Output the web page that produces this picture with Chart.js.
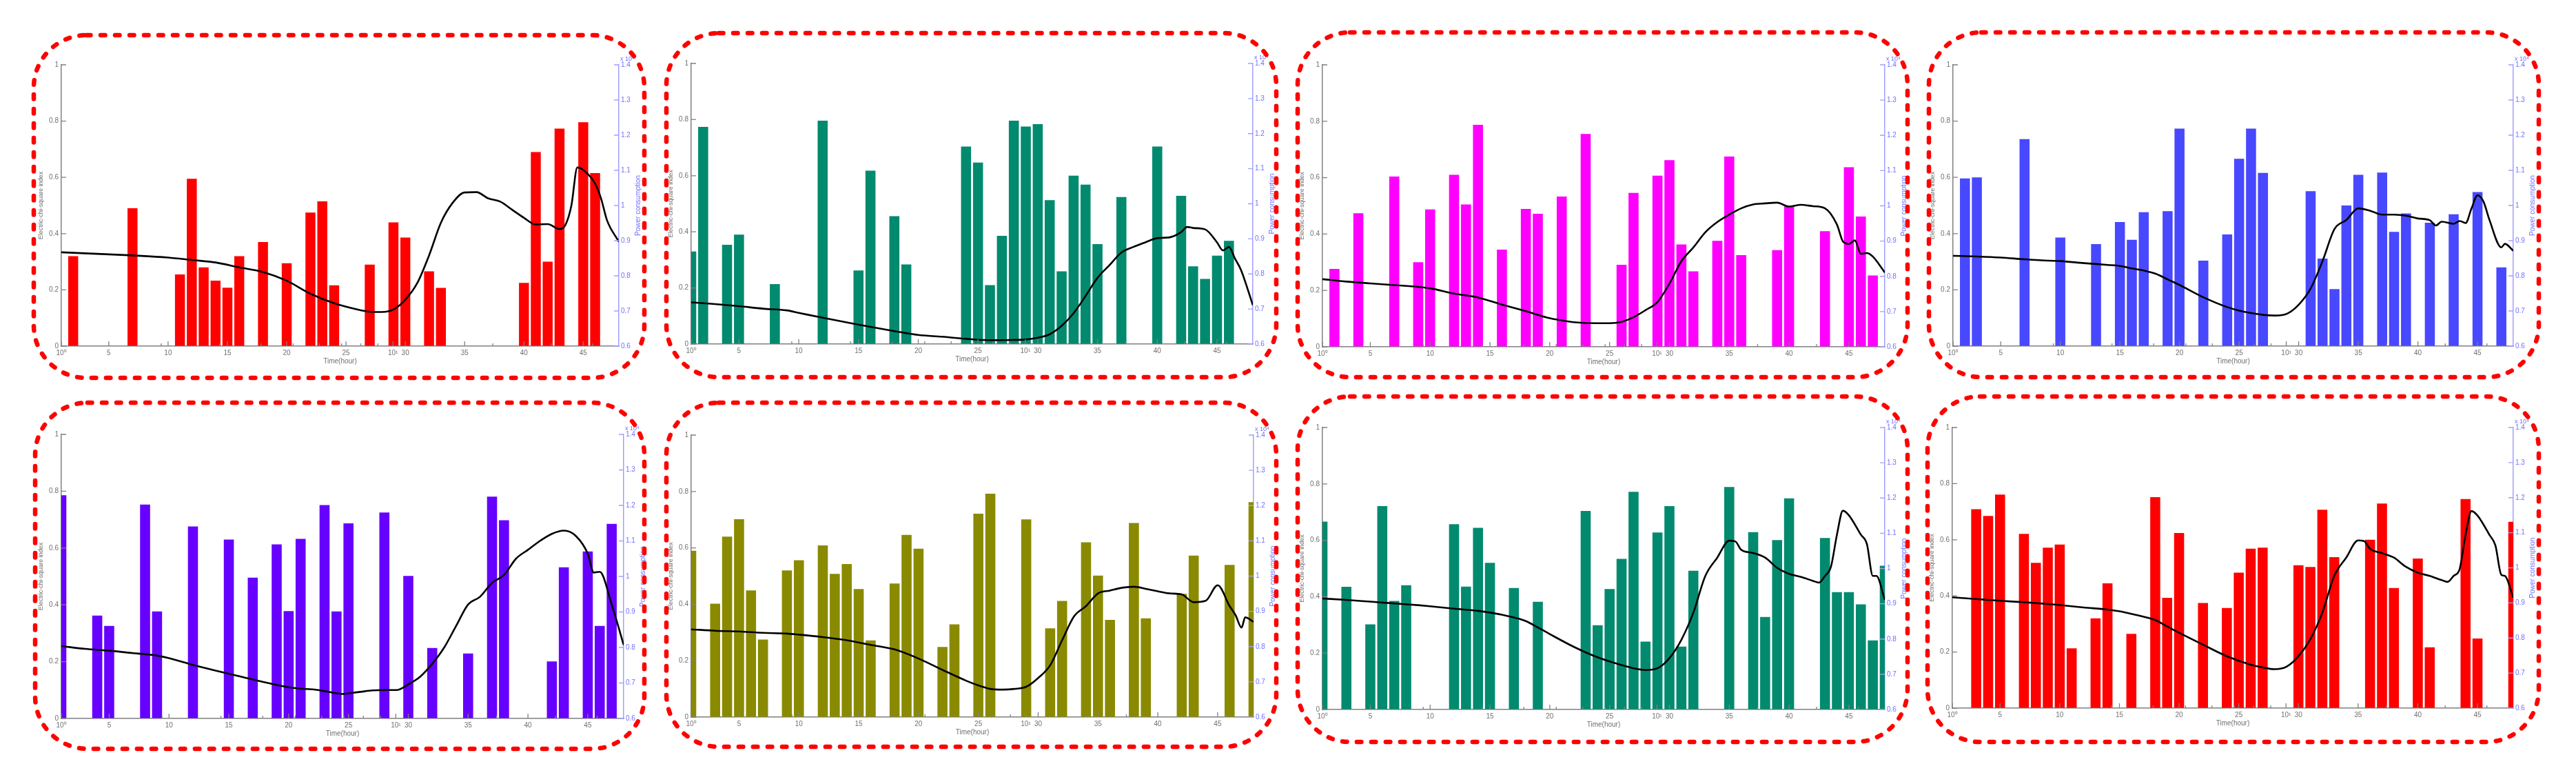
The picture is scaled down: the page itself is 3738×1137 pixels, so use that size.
<!DOCTYPE html>
<html>
<head>
<meta charset="utf-8">
<script src="https://cdn.jsdelivr.net/npm/chart.js@4.4.1/dist/chart.umd.min.js"></script>
<style>
html,body{margin:0;padding:0;background:#ffffff;}
body{width:3738px;height:1137px;position:relative;overflow:hidden;}
canvas{position:absolute;}
</style>
</head>
<body>
<script>
// ---------- categories / ticks ----------
const HOURS = [1,2,3,4,5,6,7,8,9,10,11,12,13,14,15,16,17,18,19,20,21,22,23,24,
               25,26,27,28,29,30,31,32,33,34,35,36,37,38,39,40,41,42,43,44,45,46,47,48];
const X_MAJOR_TICKS = [5,10,15,20,25,30,35,40,45];
const X_DECADE_LABELS = ['10\u2070','10\u00b9'];
const X_DECADES = [1,10];
const X_LOG_MINOR = [2,3,4,5,6,7,8,9,20,30,40];
const Y_LEFT_RANGE = [0,1,0.2];
const Y_RIGHT_RANGE = [0.6,1.4,0.1];
const Y_LEFT_TITLE = 'Electric-chi-square index';
const Y_RIGHT_TITLE = 'Power consumption';
const Y_RIGHT_EXP = 'x 10\u2074';
const X_TITLE = 'Time(hour)';

// ---------- panel 1 ----------
const P1_BARS = [null,0.32,null,null,null,null,0.49,null,
                 null,null,0.255,0.595,0.28,0.233,0.208,0.32,
                 null,0.37,null,0.295,null,0.475,0.515,0.216,
                 null,null,0.29,null,0.44,0.386,null,0.266,
                 0.207,null,null,null,null,null,null,0.225,
                 0.69,0.30,0.773,null,0.796,0.615,null,null];
const P1_LINE_X = [1,5,7,10,12,14,16,18,20,22,24,26,27,28,29,30,31,32,33,34,35,36,37,38,39,40,41,42,43,43.5,44,44.5,45,46,46.5,47,48];
const P1_LINE_Y = [0.867,0.861,0.858,0.852,0.845,0.838,0.824,0.811,0.786,0.749,0.722,0.704,0.698,0.697,0.704,0.732,0.779,0.858,0.951,1.008,1.037,1.038,1.020,1.011,0.988,0.965,0.946,0.947,0.933,0.945,1.00,1.108,1.101,1.062,1.02,0.958,0.897];

// ---------- panel 2 ----------
const P2_BARS = [0.33,0.774,null,0.354,0.39,null,null,0.214,
                 null,null,null,0.796,null,null,0.262,0.618,
                 null,0.456,0.284,null,null,null,null,0.704,
                 0.647,0.21,0.386,0.796,0.775,0.784,0.513,0.259,
                 0.60,0.568,0.356,null,0.524,null,null,0.704,
                 null,0.528,0.277,0.232,0.315,0.368,null,null];
const P2_LINE_X = [1,3,5,7,9,10,12,14,16,18,20,22,24,26,28,29,30,31,32,33,34,35,36,37,38,39,40,41,42,42.5,43,44,45,45.5,46,46.5,47,48];
const P2_LINE_Y = [0.719,0.714,0.708,0.701,0.696,0.689,0.675,0.662,0.649,0.637,0.626,0.621,0.615,0.611,0.612,0.613,0.618,0.628,0.652,0.688,0.737,0.789,0.825,0.861,0.877,0.890,0.902,0.904,0.919,0.934,0.931,0.927,0.890,0.867,0.877,0.844,0.812,0.711];

// ---------- panel 3 ----------
const P3_BARS = [null,0.276,null,0.474,null,null,0.604,null,
                 0.30,0.487,null,0.61,0.505,0.787,null,0.345,
                 null,0.489,0.472,null,0.533,null,0.755,null,
                 null,0.291,0.546,null,0.607,0.662,0.363,0.268,
                 null,0.376,0.675,0.325,null,null,0.343,0.498,
                 null,null,0.41,null,0.637,0.462,0.253,null];
const P3_LINE_X = [1,3,5,7,9,10,12,14,16,18,20,21,22,24,25,26,27,28,29,30,31,32,33,34,35,36,37,38,39,40,41,42,43,44,44.5,45,45.5,46,46.5,47,48];
const P3_LINE_Y = [0.792,0.785,0.780,0.775,0.770,0.766,0.751,0.740,0.720,0.701,0.681,0.675,0.670,0.667,0.667,0.671,0.684,0.704,0.727,0.779,0.843,0.882,0.925,0.954,0.975,0.993,1.004,1.007,1.009,0.998,1.003,0.999,0.993,0.947,0.899,0.892,0.902,0.864,0.866,0.856,0.811];

// ---------- panel 4 ----------
const P4_BARS = [null,0.596,0.60,null,null,null,0.736,null,
                 null,0.386,null,null,0.363,null,0.441,0.378,
                 0.476,null,0.48,0.773,null,0.304,null,0.397,
                 0.666,0.773,0.616,null,null,null,0.551,0.311,
                 0.203,0.50,0.609,null,0.617,0.406,0.472,null,
                 0.439,null,0.469,null,0.548,null,0.28,null];
const P4_LINE_X = [1,3,5,7,9,10,12,14,15,16,17,18,19,20,22,24,25,26,27,28,29,30,31,32,33,34,35,36,37,38,39,40,41,41.5,42,43,43.5,44,44.5,45,45.5,46,47,47.3,48];
const P4_LINE_Y = [0.857,0.855,0.852,0.847,0.843,0.842,0.836,0.831,0.828,0.821,0.815,0.806,0.790,0.774,0.739,0.711,0.701,0.694,0.689,0.687,0.692,0.718,0.764,0.842,0.933,0.959,0.992,0.985,0.974,0.974,0.971,0.963,0.958,0.943,0.954,0.948,0.956,0.950,0.992,1.029,1.011,0.959,0.881,0.891,0.871];

// ---------- panel 5 ----------
const P5_BARS = [0.786,null,null,0.362,0.326,null,null,0.753,
                 0.377,null,null,0.676,null,null,0.63,null,
                 0.496,null,0.613,0.378,0.632,null,0.751,0.377,
                 0.687,null,null,0.725,null,0.502,null,0.248,
                 null,null,0.229,null,0.781,0.698,null,null,
                 null,0.201,0.532,null,0.588,0.326,0.685,null];
const P5_LINE_X = [1,3,5,7,8,9,10,12,14,16,18,20,21,22,23,24,24.5,25,26,27,28,29,30,31,32,33,34,35,36,37,38,39,40,41,42,43,44,45,45.5,46,47,48];
const P5_LINE_Y = [0.804,0.796,0.791,0.784,0.781,0.777,0.770,0.751,0.734,0.718,0.702,0.688,0.684,0.682,0.677,0.671,0.669,0.671,0.675,0.679,0.680,0.680,0.696,0.718,0.754,0.800,0.861,0.921,0.943,0.982,1.004,1.050,1.075,1.100,1.120,1.129,1.114,1.064,1.011,1.013,0.921,0.807];

// ---------- panel 6 ----------
const P6_BARS = [0.59,null,0.402,0.64,0.702,0.449,0.275,null,
                 0.52,0.556,null,0.609,0.508,0.543,0.454,0.272,
                 null,0.474,0.646,0.597,null,0.249,0.329,null,
                 0.721,0.792,null,null,0.701,null,0.315,0.412,
                 null,0.62,0.502,0.345,null,0.688,0.35,null,
                 null,0.437,0.573,null,null,0.54,null,0.762];
const P6_LINE_X = [1,3,5,7,9,10,12,14,16,18,20,22,24,25,26,27,28,29,30,31,32,33,34,35,36,37,38,39,40,41,42,43,44,45,46,46.5,47,47.3,48];
const P6_LINE_Y = [0.849,0.845,0.843,0.839,0.837,0.834,0.827,0.818,0.805,0.792,0.766,0.734,0.703,0.690,0.680,0.678,0.680,0.686,0.711,0.747,0.818,0.886,0.915,0.951,0.959,0.967,0.970,0.964,0.957,0.951,0.948,0.926,0.930,0.974,0.915,0.889,0.854,0.883,0.870];

// ---------- panel 7 ----------
const P7_BARS = [0.666,null,0.435,null,0.302,0.721,0.385,0.441,
                 null,null,null,0.657,0.436,0.644,0.52,null,
                 0.431,null,0.382,null,null,null,0.704,0.299,
                 0.427,0.534,0.772,0.241,0.628,0.721,0.223,0.492,
                 null,null,0.789,null,0.629,0.328,0.601,0.749,
                 null,null,0.608,0.416,0.416,0.373,0.245,0.51];
const P7_LINE_X = [1,3,5,7,9,10,12,14,15,16,17,18,19,20,22,24,26,27,28,29,30,31,32,33,34,35,35.5,36,37,38,39,40,41,42,42.5,43,43.5,44,44.5,45,46,46.5,47,47.3,48];
const P7_LINE_Y = [0.915,0.911,0.906,0.901,0.896,0.893,0.886,0.880,0.875,0.869,0.861,0.851,0.833,0.814,0.778,0.748,0.726,0.717,0.712,0.717,0.746,0.798,0.875,0.979,1.031,1.079,1.077,1.053,1.044,1.031,1.002,0.985,0.976,0.965,0.960,0.979,1.005,1.096,1.164,1.151,1.096,1.070,0.979,0.979,0.911];

// ---------- panel 8 ----------
const P8_BARS = [null,null,0.709,0.685,0.761,null,0.621,0.518,
                 0.572,0.583,0.213,null,0.32,0.445,null,0.265,
                 null,0.752,0.393,0.624,null,0.375,null,0.357,
                 0.483,0.568,0.572,null,null,0.509,0.503,0.707,
                 0.538,null,null,0.60,0.729,0.428,null,0.533,
                 0.217,null,null,0.745,0.248,null,null,0.664];
const P8_LINE_X = [1,3,5,7,9,10,12,14,15,16,17,18,19,20,22,24,26,27,28,29,30,31,32,33,34,35,35.5,36,37,38,39,40,41,42,42.5,43,43.5,44,44.5,45,46,46.5,47,47.3,48];
const P8_LINE_Y = [0.916,0.911,0.906,0.902,0.897,0.894,0.887,0.881,0.876,0.869,0.861,0.851,0.833,0.815,0.781,0.748,0.724,0.716,0.711,0.718,0.748,0.797,0.872,0.977,1.029,1.078,1.076,1.054,1.042,1.029,1.003,0.986,0.977,0.965,0.960,0.977,0.996,1.094,1.162,1.149,1.094,1.064,0.980,0.977,0.915];

// ---------- layout / style (not data) ----------
const FONT = '"Liberation Sans", Arial, Helvetica, sans-serif';
const GREY = '#707070';
const AXIS_GREY = '#808080';
const BLUE_TXT = '#7070ff';
const BLUE_AXIS = '#a0a0ff';
const PANELS = [
  {bars:P1_BARS, lx:P1_LINE_X, ly:P1_LINE_Y, color:'#ff0000', box:[49,51,935,548],    plot:[89,94,898,502]},
  {bars:P2_BARS, lx:P2_LINE_X, ly:P2_LINE_Y, color:'#028a6f', box:[967,48,1852,547],  plot:[1003,92,1818,499]},
  {bars:P3_BARS, lx:P3_LINE_X, ly:P3_LINE_Y, color:'#ff00ff', box:[1883,47,2768,547], plot:[1919,94,2735,503]},
  {bars:P4_BARS, lx:P4_LINE_X, ly:P4_LINE_Y, color:'#4848ff', box:[2799,47,3684,547], plot:[2834,94,3647,502]},
  {bars:P5_BARS, lx:P5_LINE_X, ly:P5_LINE_Y, color:'#6600ff', box:[51,584,935,1086],  plot:[89,630,905,1042]},
  {bars:P6_BARS, lx:P6_LINE_X, ly:P6_LINE_Y, color:'#8a8a00', box:[967,584,1852,1083],plot:[1003,631,1819,1040]},
  {bars:P7_BARS, lx:P7_LINE_X, ly:P7_LINE_Y, color:'#028a6f', box:[1883,575,2768,1076],plot:[1919,620,2735,1029]},
  {bars:P8_BARS, lx:P8_LINE_X, ly:P8_LINE_Y, color:'#ff0000', box:[2797,575,3684,1076],plot:[2833,620,3647,1027]}
];
const M = 12, WL = 40, WR = 40, HX = 40;

// hidden log axis overlay positions (MATLAB artefact): value v -> linear hour position
const LOG_SPAN = Math.log10(48);
const logPos = v => 1 + 47 * Math.log10(v) / LOG_SPAN;
const DECADE_POS = X_DECADES.map(logPos);
const MINOR_POS = X_LOG_MINOR.map(logPos);
const X_TICK_VALUES = [DECADE_POS[0]].concat(X_MAJOR_TICKS.slice(0,5), [DECADE_POS[1]], X_MAJOR_TICKS.slice(5));

function xLabel(v) {
  for (let i = 0; i < DECADE_POS.length; i++) if (Math.abs(v - DECADE_POS[i]) < 1e-6) return X_DECADE_LABELS[i];
  return X_MAJOR_TICKS.includes(v) ? String(v) : '';
}
const fmt = v => { const r = Math.round(v * 10) / 10; return (r === 0 || r === 1) ? String(r) : r.toFixed(1); };

function roundRectPath(ctx, x, y, w, h, r) {
  ctx.beginPath();
  ctx.moveTo(x + r, y);
  ctx.lineTo(x + w - r, y);
  ctx.arcTo(x + w, y, x + w, y + r, r);
  ctx.lineTo(x + w, y + h - r);
  ctx.arcTo(x + w, y + h, x + w - r, y + h, r);
  ctx.lineTo(x + r, y + h);
  ctx.arcTo(x, y + h, x, y + h - r, r);
  ctx.lineTo(x, y + r);
  ctx.arcTo(x, y, x + r, y, r);
  ctx.closePath();
}

const decorPlugin = {
  id: 'decor',
  beforeDraw(chart) {
    const ctx = chart.ctx;
    ctx.save();
    ctx.fillStyle = '#ffffff';
    ctx.fillRect(0, 0, chart.width, chart.height);
    ctx.restore();
  },
  afterDraw(chart) {
    const {ctx, chartArea: a, scales} = chart;
    const x = scales.x, y = scales.y, y1 = scales.y1;
    ctx.save();
    ctx.lineWidth = 1.3;
    ctx.strokeStyle = AXIS_GREY;
    ctx.beginPath();
    y.ticks.forEach(t => { const p = y.getPixelForValue(t.value); ctx.moveTo(a.left, p); ctx.lineTo(a.left + 7, p); });
    x.ticks.forEach(t => { const p = x.getPixelForValue(t.value); ctx.moveTo(p, a.bottom); ctx.lineTo(p, a.bottom - 7); });
    MINOR_POS.forEach(v => { const p = x.getPixelForValue(v); ctx.moveTo(p, a.bottom); ctx.lineTo(p, a.bottom - 4); });
    ctx.stroke();
    ctx.strokeStyle = BLUE_AXIS;
    ctx.beginPath();
    y1.ticks.forEach(t => { const p = y1.getPixelForValue(t.value); ctx.moveTo(a.right - 7, p); ctx.lineTo(a.right, p); });
    ctx.stroke();
    // right axis title (reads bottom-to-top) and exponent
    ctx.fillStyle = BLUE_TXT;
    ctx.font = '10px ' + FONT;
    ctx.save();
    ctx.translate(a.right + 28, (a.top + a.bottom) / 2);
    ctx.rotate(-Math.PI / 2);
    ctx.textAlign = 'center';
    ctx.textBaseline = 'middle';
    ctx.fillText(Y_RIGHT_TITLE, 0, 0);
    ctx.restore();
    ctx.font = '9px ' + FONT;
    ctx.textAlign = 'left';
    ctx.textBaseline = 'alphabetic';
    ctx.fillText(Y_RIGHT_EXP, a.right + 2, a.top - 6);
    // red dashed rounded frame
    ctx.strokeStyle = '#ff0000';
    ctx.lineWidth = 6.5;
    ctx.lineCap = 'round';
    ctx.setLineDash([6.5, 14.5]);
    roundRectPath(ctx, M, M, chart.width - 2 * M, chart.height - 2 * M, 76);
    ctx.stroke();
    ctx.restore();
  }
};

Chart.defaults.font.family = FONT;

PANELS.forEach(p => {
  const [bl, bt, br, bb] = p.box;
  const [pl, pt, pr, pb] = p.plot;
  const cx = bl - M, cy = bt - M, cw = br - bl + 2 * M, ch = bb - bt + 2 * M;
  const canvas = document.createElement('canvas');
  canvas.width = cw; canvas.height = ch;
  canvas.style.left = cx + 'px'; canvas.style.top = cy + 'px';
  canvas.style.width = cw + 'px'; canvas.style.height = ch + 'px';
  document.body.appendChild(canvas);

  new Chart(canvas, {
    type: 'bar',
    data: {
      labels: HOURS,
      datasets: [
        {
          type: 'line',
          data: p.lx.map((xv, k) => ({x: xv, y: p.ly[k]})),
          yAxisID: 'y1',
          borderColor: '#000000',
          borderWidth: 2.6,
          pointRadius: 0,
          cubicInterpolationMode: 'monotone',
          fill: false,
          order: 0
        },
        {
          type: 'bar',
          data: p.bars,
          yAxisID: 'y',
          backgroundColor: p.color,
          borderWidth: 0,
          barPercentage: 0.84,
          categoryPercentage: 1,
          clip: 0,
          order: 1
        }
      ]
    },
    options: {
      responsive: false,
      animation: false,
      devicePixelRatio: 1,
      events: [],
      layout: {padding: {left: pl - cx - WL, right: cx + cw - pr - WR, top: pt - cy, bottom: cy + ch - pb - HX}},
      plugins: {legend: {display: false}, tooltip: {enabled: false}},
      scales: {
        x: {
          type: 'linear', min: 1, max: 48, offset: false,
          grid: {offset: false, drawOnChartArea: false, drawTicks: false},
          border: {color: AXIS_GREY, width: 1.5},
          afterBuildTicks: s => { s.ticks = X_TICK_VALUES.map(v => ({value: v})); },
          afterFit: s => { s.height = HX; s.paddingLeft = 0; s.paddingRight = 0; },
          ticks: {autoSkip: false, maxRotation: 0, minRotation: 0, padding: 4, color: GREY,
                  font: {size: 10}, callback: v => xLabel(v)},
          title: {display: true, text: X_TITLE, color: GREY, font: {size: 10}, padding: {top: 0, bottom: 12}}
        },
        y: {
          type: 'linear', position: 'left',
          min: Y_LEFT_RANGE[0], max: Y_LEFT_RANGE[1],
          grid: {drawOnChartArea: false, drawTicks: false},
          border: {color: AXIS_GREY, width: 1.5},
          afterFit: s => { s.width = WL; s.paddingTop = 0; s.paddingBottom = 0; },
          ticks: {stepSize: Y_LEFT_RANGE[2], padding: 4, color: GREY, font: {size: 10}, callback: v => fmt(v)},
          title: {display: true, text: Y_LEFT_TITLE, color: GREY, font: {size: 9}, padding: {top: 5.5, bottom: 0}}
        },
        y1: {
          type: 'linear', position: 'right',
          min: Y_RIGHT_RANGE[0], max: Y_RIGHT_RANGE[1],
          grid: {drawOnChartArea: false, drawTicks: false},
          border: {color: BLUE_AXIS, width: 1.5},
          afterFit: s => { s.width = WR; s.paddingTop = 0; s.paddingBottom = 0; },
          ticks: {stepSize: Y_RIGHT_RANGE[2], padding: 3, color: BLUE_TXT, font: {size: 10}, callback: v => fmt(v)}
        }
      }
    },
    plugins: [decorPlugin]
  });
});
</script>
</body>
</html>
